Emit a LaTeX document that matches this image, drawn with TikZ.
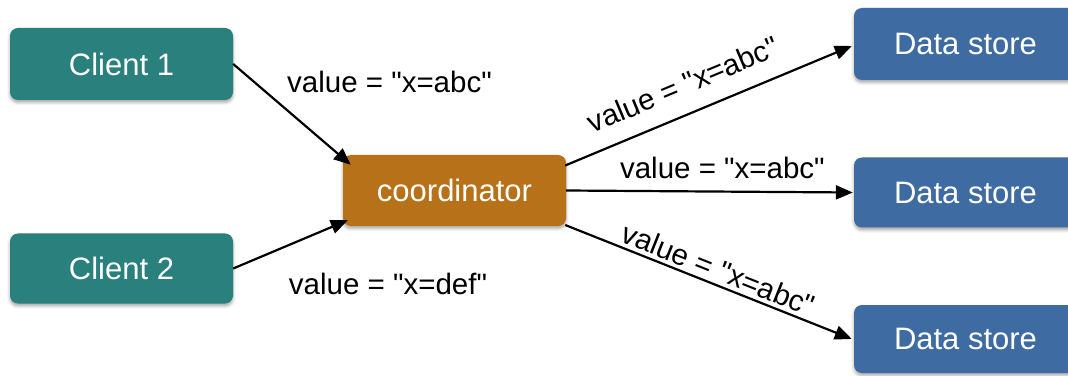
\documentclass[tikz,border=0pt]{standalone}
\usepackage{fontspec}
\setmainfont{Liberation Sans}[Ligatures=TeXOff]
\usetikzlibrary{arrows.meta,calc,shadows.blur}

\definecolor{clientcol}{RGB}{42,128,124}
\definecolor{coordcol}{RGB}{183,113,24}
\definecolor{storecol}{RGB}{62,108,162}

\tikzset{
  box/.style={rounded corners=8pt, inner sep=0pt, text=white,
    font=\fontsize{31}{36}\selectfont,
    blur shadow={shadow xshift=0pt, shadow yshift=-2.5pt,
      shadow blur radius=3pt, shadow opacity=35}},
  clientbox/.style={box, fill=clientcol, minimum width=223pt},
  coordbox/.style={box, fill=coordcol, minimum width=223pt, minimum height=71pt},
  storebox/.style={box, fill=storecol, minimum width=223pt},
  msg/.style={-{Triangle[length=17pt,width=14pt]}, line width=2.2pt, black},
  lbl/.style={font=\fontsize{29.5}{34}\selectfont, inner sep=0pt, anchor=base}
}

\begin{document}
\begin{tikzpicture}[x=1pt,y=1pt]
  \useasboundingbox (0,0) rectangle (1068,375);

  % clients
  \node[clientbox, minimum height=72pt] (c1) at (121.5,311) {Client 1};
  \node[clientbox, minimum height=70pt] (c2) at (121.5,106.5) {Client 2};

  % coordinator
  \node[coordbox] (co) at (454.5,184.5) {coordinator};

  % replicas
  \node[storebox, minimum height=72pt] (d1) at (965.5,331) {Data store};
  \node[storebox, minimum height=70pt] (d2) at (965.5,182.5) {Data store};
  \node[storebox, minimum height=68pt] (d3) at (965.5,36) {Data store};

  % writes into the coordinator
  \draw[msg] (c1.east) -- ($(co.north west)+(8,-10)$);
  \draw[msg] (c2.east) -- ($(co.south west)+(5,6)$);
  \node[lbl] (l1) at (389.5,282) {value = "x=abc"};
  \node[lbl] (l2) at (388,81) {value = "x=def"};

  % fan-out to the replicas
  \draw[msg] ($(co.east)+(-1,25)$) -- ($(d1.west)+(-2,-2)$)
    node[lbl, pos=0.45, sloped, yshift=19pt] (l3) {value = "x=abc"};
  \draw[msg] (co.east) -- ($(d2.west)+(-1,0)$)
    node[lbl, pos=0.545, yshift=13.5pt] (l4) {value = "x=abc"};
  \draw[msg] ($(co.east)+(-1,-34.5)$) -- ($(d3.west)+(-2,0)$)
    node[lbl, pos=0.515, sloped, yshift=5pt] (l5) {value = "x=abc"};
\end{tikzpicture}
\end{document}
